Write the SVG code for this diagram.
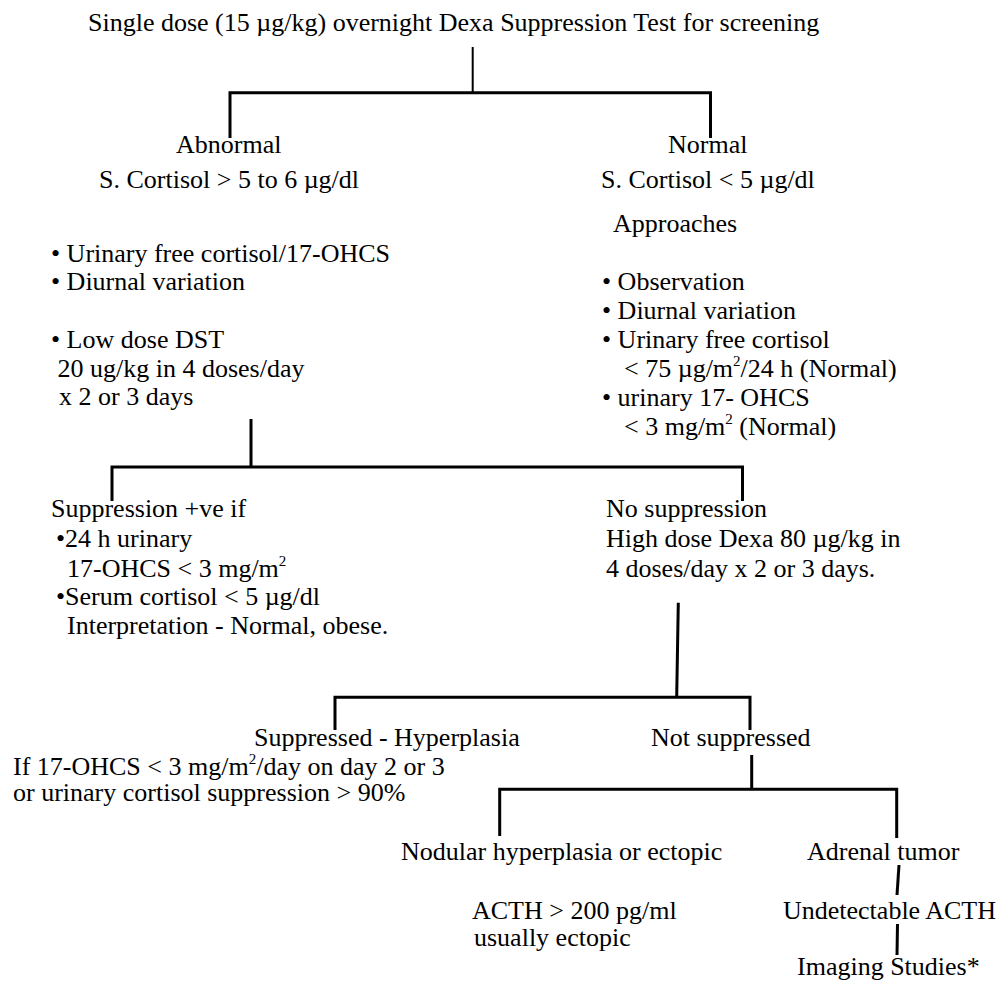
<svg xmlns="http://www.w3.org/2000/svg" width="1001" height="984" viewBox="0 0 1001 984">
<style>
text{font-family:"Liberation Serif","Times New Roman",serif;font-size:26px;fill:#000}
.sup{font-size:15px}
.c{stroke:#000;fill:none;stroke-width:3;stroke-linecap:butt}
.t{stroke-width:2}
</style>
<rect width="1001" height="984" fill="#fff"/>
<g id="connectors">
<line class="c t" x1="472.7" y1="47" x2="472.7" y2="94"/>
<polyline class="c" points="230,138 230,92.7 710.5,92.7 710.5,138"/>
<line class="c" x1="251" y1="419" x2="251" y2="467"/>
<polyline class="c" points="112,501 112,467 742.5,467 742.5,501"/>
<line class="c" x1="678.3" y1="602.7" x2="676.7" y2="697"/>
<polyline class="c" points="335,730 335,697.3 750,697.3 750,730"/>
<line class="c" x1="751.7" y1="755" x2="751.7" y2="789"/>
<polyline class="c" points="499.7,836 499.7,789.3 896.7,789.3 896.7,838"/>
<line class="c" x1="899" y1="865" x2="897" y2="895"/>
<line class="c" x1="897.5" y1="924" x2="897" y2="955"/>
</g>
<g id="n-screen"><text x="88" y="31">Single dose (15 µg/kg) overnight Dexa Suppression Test for screening</text></g>
<g id="n-abnormal">
<text x="176" y="153">Abnormal</text>
<text x="99" y="188">S. Cortisol &gt; 5 to 6 µg/dl</text>
</g>
<g id="n-normal">
<text x="668" y="153">Normal</text>
<text x="601" y="188">S. Cortisol &lt; 5 µg/dl</text>
<text x="613" y="232">Approaches</text>
</g>
<g id="n-abnormal-tests">
<text x="51" y="262">• Urinary free cortisol/17-OHCS</text>
<text x="51" y="290">• Diurnal variation</text>
<text x="51" y="348">• Low dose DST</text>
<text x="57.5" y="377">20 ug/kg in 4 doses/day</text>
<text x="59" y="405">x 2 or 3 days</text>
</g>
<g id="n-approaches">
<text x="602" y="290">• Observation</text>
<text x="602" y="319">• Diurnal variation</text>
<text x="602" y="348">• Urinary free cortisol</text>
<text x="624" y="377">&lt; 75 µg/m<tspan class="sup" dy="-11">2</tspan><tspan dy="11">/24 h (Normal)</tspan></text>
<text x="602" y="406">• urinary 17- OHCS</text>
<text x="624" y="435">&lt; 3 mg/m<tspan class="sup" dy="-11">2</tspan><tspan dy="11"> (Normal)</tspan></text>
</g>
<g id="n-suppression">
<text x="51" y="517">Suppression +ve if</text>
<text x="56" y="547">•24 h urinary</text>
<text x="67" y="577">17-OHCS &lt; 3 mg/m<tspan class="sup" dy="-11">2</tspan></text>
<text x="56" y="605">•Serum cortisol &lt; 5 µg/dl</text>
<text x="67" y="634">Interpretation - Normal, obese.</text>
</g>
<g id="n-nosuppression">
<text x="606" y="517">No suppression</text>
<text x="606" y="547">High dose Dexa 80 µg/kg in</text>
<text x="606" y="577">4 doses/day x 2 or 3 days.</text>
</g>
<g id="n-suppressed">
<text x="254" y="746">Suppressed - Hyperplasia</text>
<text x="13" y="775">If 17-OHCS &lt; 3 mg/m<tspan class="sup" dy="-11">2</tspan><tspan dy="11">/day on day 2 or 3</tspan></text>
<text x="13" y="801">or urinary cortisol suppression &gt; 90%</text>
</g>
<g id="n-notsuppressed"><text x="651" y="746">Not suppressed</text></g>
<g id="n-nodular">
<text x="401" y="860">Nodular hyperplasia or ectopic</text>
<text x="472" y="919">ACTH &gt; 200 pg/ml</text>
<text x="474" y="946">usually ectopic</text>
</g>
<g id="n-adrenal"><text x="807" y="860">Adrenal tumor</text></g>
<g id="n-undetectable"><text x="783" y="919">Undetectable ACTH</text></g>
<g id="n-imaging"><text x="797" y="975">Imaging Studies*</text></g>
</svg>
